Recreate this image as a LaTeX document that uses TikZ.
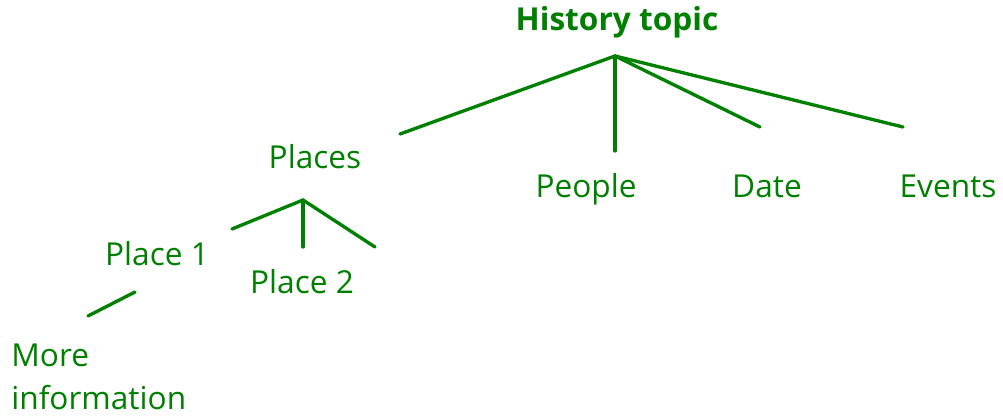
\documentclass[tikz,border=0pt]{standalone}
\usepackage{fontspec}
\setmainfont{Open Sans}
\definecolor{leafgreen}{RGB}{0, 128, 0}
\usetikzlibrary{positioning}
\tikzset{
    topic/.style={
        text=leafgreen, font=\fontsize{18}{21}\selectfont\bfseries,
        inner sep=0pt, anchor=base
    },
    leaf/.style={
        text=leafgreen, font=\fontsize{18}{24.5}\selectfont,
        inner sep=0pt, align=left, anchor=base
    },
    branch/.style={draw=leafgreen, line width=1.9pt, line cap=round}
}

\begin{document}
\begin{tikzpicture}[x=0.02cm, y=-0.02cm]
    \useasboundingbox (0,0) rectangle (1003,416);

    % Root
    \node[topic] (hist) at (617,30) {History topic};
    \coordinate (hub) at (615,56);

    % Level 1
    \node[leaf] (places) at (315,168) {Places};
    \node[leaf] (people) at (586,197) {People};
    \node[leaf] (date) at (767,197) {Date};
    \node[leaf] (events) at (948,197) {Events};

    % Level 2
    \coordinate (phub) at (303,200);
    \node[leaf] (place1) at (157,265) {Place 1};
    \node[leaf] (place2) at (302,293) {Place 2};

    % Level 3
    \node[leaf, anchor=west] (more) at (11,377) {More\\information};

    % Free line ends
    \coordinate (toplaces) at (400,134);
    \coordinate (topeople) at (615,151);
    \coordinate (todate) at (760,127);
    \coordinate (toevents) at (903,127);
    \coordinate (toplace1) at (232,229);
    \coordinate (toplace2) at (303,247);
    \coordinate (toplace3) at (375,247);
    \coordinate (p1top) at (135,292);
    \coordinate (tomore) at (88,316);

    % Branches
    \draw[branch] (hub) -- (toplaces);
    \draw[branch] (hub) -- (topeople);
    \draw[branch] (hub) -- (todate);
    \draw[branch] (hub) -- (toevents);
    \draw[branch] (phub) -- (toplace1);
    \draw[branch] (phub) -- (toplace2);
    \draw[branch] (phub) -- (toplace3);
    \draw[branch] (p1top) -- (tomore);

\end{tikzpicture}
\end{document}
